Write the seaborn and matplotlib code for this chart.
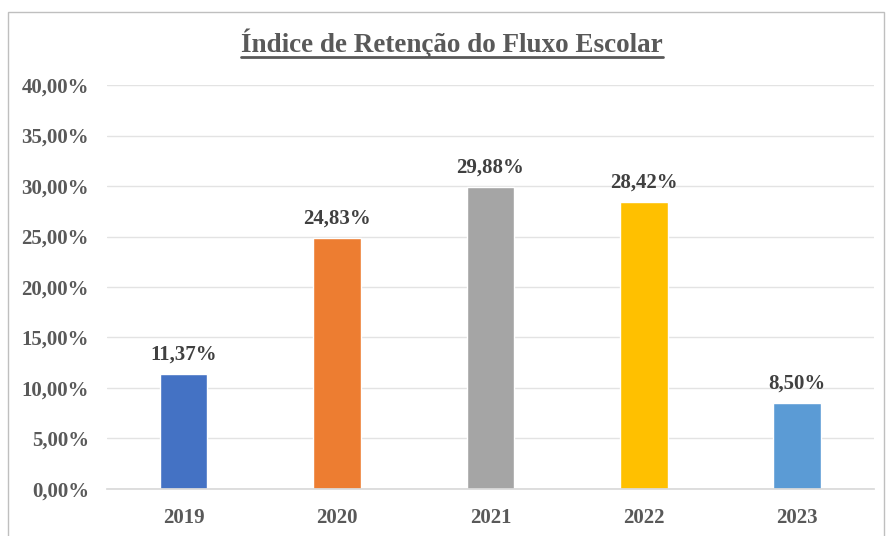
import matplotlib
matplotlib.use("Agg")
import matplotlib.pyplot as plt
import seaborn as sns
import pandas as pd
from matplotlib.lines import Line2D
from matplotlib.patches import Rectangle
from matplotlib.ticker import FuncFormatter

# data
anos = ['2019', '2020', '2021', '2022', '2023']
retencao = [11.37, 24.83, 29.88, 28.42, 8.50]
cores = ['#4472C4', '#ED7D31', '#A5A5A5', '#FFC000', '#5B9BD5']
titulo = 'Índice de Retenção do Fluxo Escolar'

df = pd.DataFrame({'Ano': anos, 'Retenção': retencao})

sns.set_theme(style='white')
plt.rcParams['font.family'] = ['Liberation Serif', 'DejaVu Serif']

fig = plt.figure(figsize=(8.88, 5.36), dpi=100)
ax = fig.add_axes([0.1205, 0.0877, 0.8635, 0.7537])

sns.barplot(data=df, x='Ano', y='Retenção', hue='Ano', palette=cores,
            width=0.31, legend=False, ax=ax, saturation=1)

ax.set_ylim(0, 40)
ax.set_yticks(range(0, 41, 5))
ax.yaxis.set_major_formatter(FuncFormatter(lambda v, p: f'{v:.2f}%'.replace('.', ',')))
ax.grid(axis='y', color='#E3E3E3', linewidth=1)
ax.set_axisbelow(True)
for s in ['top', 'right', 'left']:
    ax.spines[s].set_visible(False)
ax.spines['bottom'].set_color('#D9D9D9')
ax.set_xlabel('')
ax.set_ylabel('')
ax.tick_params(axis='both', length=0, colors='#595959', labelsize=15)
ax.tick_params(axis='y', pad=13)
ax.tick_params(axis='x', pad=14)
for lab in ax.get_xticklabels() + ax.get_yticklabels():
    lab.set_fontweight('bold')

for c in ax.containers:
    ax.bar_label(c, labels=[f'{v:.2f}%'.replace('.', ',') for v in c.datavalues],
                 padding=7, fontsize=15, fontweight='bold', color='#404040')

# chart border like the spreadsheet frame
fig.add_artist(Rectangle((8 / 888, -0.05), (884 - 8) / 888, 1.05 - 12 / 536,
                         transform=fig.transFigure, fill=False,
                         edgecolor='#BFBFBF', linewidth=1))

t = fig.text(452 / 888, 1 - 43 / 536, titulo, ha='center', va='center',
             fontsize=19.5, fontweight='bold', color='#595959')
fig.canvas.draw()
bb = t.get_window_extent().transformed(fig.transFigure.inverted())
fig.add_artist(Line2D([bb.x0, bb.x1], [bb.y0 + 0.002, bb.y0 + 0.002],
                      transform=fig.transFigure, color='#595959', linewidth=2))

fig.savefig('out.png', dpi=100)
